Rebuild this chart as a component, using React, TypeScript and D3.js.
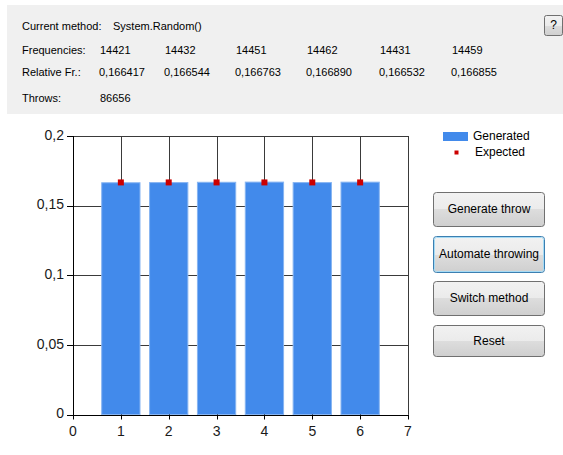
import React from "react";
import * as d3 from "d3";

const categories = [1, 2, 3, 4, 5, 6];
const frequencies = [14421, 14432, 14451, 14462, 14431, 14459];
const relativeFr = [0.166417, 0.166544, 0.166763, 0.16689, 0.166532, 0.166855];
const relativeLabels = ["0,166417", "0,166544", "0,166763", "0,166890", "0,166532", "0,166855"];
const expected = [0.166667, 0.166667, 0.166667, 0.166667, 0.166667, 0.166667];
const throws = 86656;
const method = "System.Random()";
const xTicks = [0, 1, 2, 3, 4, 5, 6, 7];
const yTicks = [0, 0.05, 0.1, 0.15, 0.2];
const buttons = ["Generate throw", "Automate throwing", "Switch method", "Reset"];

const W = 563;
const H = 455;
const plot = { left: 73, right: 408, top: 136, bottom: 414.5 };
const fmt = (v: number) => String(v).replace(".", ",");
const FONT = "'Liberation Sans', Arial, sans-serif";

export default function App() {
  const x = d3.scaleLinear().domain([0, 7]).range([plot.left, plot.right]);
  const y = d3.scaleLinear().domain([0, 0.2]).range([plot.bottom, plot.top]);
  const barW = x(0.8) - x(0);
  const colX = [100, 165, 236, 307, 380, 452];
  const btnY = [192, 236, 281, 325];
  const btnH = [34, 36, 34, 31];

  return (
    <div style={{ position: "absolute", left: 0, top: 0 }}>
      <svg width={W} height={H} style={{ display: "block", fontFamily: FONT }}>
        <defs>
          <linearGradient id="btn" x1="0" y1="0" x2="0" y2="1">
            <stop offset="0" stopColor="#f2f2f2" />
            <stop offset="0.5" stopColor="#ebebeb" />
            <stop offset="0.5" stopColor="#dddddd" />
            <stop offset="1" stopColor="#cfcfcf" />
          </linearGradient>
        </defs>
        <rect x={0} y={0} width={W} height={H} fill="#ffffff" />
        {/* header panel */}
        <rect x={7} y={5} width={W - 7} height={109} fill="#f0f0f0" />
        <g fontSize={11} fill="#000" dominantBaseline="middle">
          <text x={22} y={27}>Current method:</text>
          <text x={113} y={27}>{method}</text>
          <text x={22} y={51}>Frequencies:</text>
          {frequencies.map((f, i) => (
            <text key={"f" + i} x={colX[i]} y={51}>{f}</text>
          ))}
          <text x={22} y={73.5}>Relative Fr.:</text>
          {relativeLabels.map((r, i) => (
            <text key={"r" + i} x={colX[i] - 1} y={73.5}>{r}</text>
          ))}
          <text x={22} y={99}>Throws:</text>
          <text x={100} y={99}>{throws}</text>
        </g>
        {/* ? button */}
        <rect x={544.5} y={15.5} width={18} height={20} rx={2} fill="url(#btn)" stroke="#707070" />
        <text x={553.5} y={26} fontSize={12} textAnchor="middle" dominantBaseline="middle">?</text>

        {/* grid */}
        <g stroke="#3a3a3a" strokeWidth={1}>
          {yTicks.filter((t) => t > 0).map((t) => (
            <line key={"gy" + t} x1={plot.left} x2={plot.right} y1={Math.round(y(t)) + 0.5} y2={Math.round(y(t)) + 0.5} />
          ))}
          {xTicks.filter((t) => t > 0).map((t) => (
            <line key={"gx" + t} x1={Math.round(x(t)) + 0.5} x2={Math.round(x(t)) + 0.5} y1={plot.top} y2={plot.bottom} />
          ))}
        </g>
        {/* bars */}
        {categories.map((c, i) => (
          <rect
            key={"b" + c}
            x={x(c) - barW / 2}
            y={y(relativeFr[i])}
            width={barW}
            height={y(0) - y(relativeFr[i])}
            fill="#428aeb"
            stroke="#86b4f2"
            strokeWidth={1}
          />
        ))}
        {/* expected markers */}
        {categories.map((c, i) => (
          <rect key={"e" + c} x={x(c) - 3} y={y(expected[i]) - 3} width={6} height={6} fill="#cc0000" />
        ))}
        {/* axes */}
        <g stroke="#000" strokeWidth={1}>
          <line x1={plot.left + 0.5} x2={plot.left + 0.5} y1={plot.top} y2={plot.bottom + 0.5} />
          <line x1={plot.left} x2={plot.right + 1} y1={Math.round(plot.bottom) + 0.5} y2={Math.round(plot.bottom) + 0.5} />
          {yTicks.map((t) => (
            <line key={"ty" + t} x1={plot.left - 6} x2={plot.left} y1={Math.round(y(t)) + 0.5} y2={Math.round(y(t)) + 0.5} />
          ))}
          {xTicks.map((t) => (
            <line key={"tx" + t} x1={Math.round(x(t)) + 0.5} x2={Math.round(x(t)) + 0.5} y1={plot.bottom} y2={plot.bottom + 5} />
          ))}
        </g>
        <g fontSize={14} fill="#1a1a1a">
          {yTicks.map((t) => (
            <text key={"ly" + t} x={plot.left - 9} y={y(t)} textAnchor="end" dominantBaseline="middle">{fmt(t)}</text>
          ))}
          {xTicks.map((t) => (
            <text key={"lx" + t} x={x(t)} y={432} textAnchor="middle" dominantBaseline="middle">{t}</text>
          ))}
        </g>

        {/* legend */}
        <rect x={443} y={132} width={25} height={9} fill="#428aeb" />
        <text x={473} y={136.5} fontSize={12} dominantBaseline="middle">Generated</text>
        <rect x={454.5} y={150.5} width={4} height={4} fill="#cc0000" />
        <text x={475} y={152.5} fontSize={12} dominantBaseline="middle">Expected</text>

        {/* buttons */}
        {buttons.map((b, i) => (
          <g key={b}>
            <rect
              x={433.5}
              y={btnY[i] + 0.5}
              width={111}
              height={btnH[i]}
              rx={3}
              fill="url(#btn)"
              stroke={i === 1 ? "#3c7fb1" : "#707070"}
            />
            {i === 1 && (
              <rect x={434.5} y={btnY[i] + 1.5} width={109} height={btnH[i] - 2} rx={2} fill="none" stroke="#a6dbf5" strokeWidth={1} />
            )}
            <text x={489} y={btnY[i] + btnH[i] / 2 + 1} fontSize={12} textAnchor="middle" dominantBaseline="middle">{b}</text>
          </g>
        ))}
      </svg>
    </div>
  );
}
